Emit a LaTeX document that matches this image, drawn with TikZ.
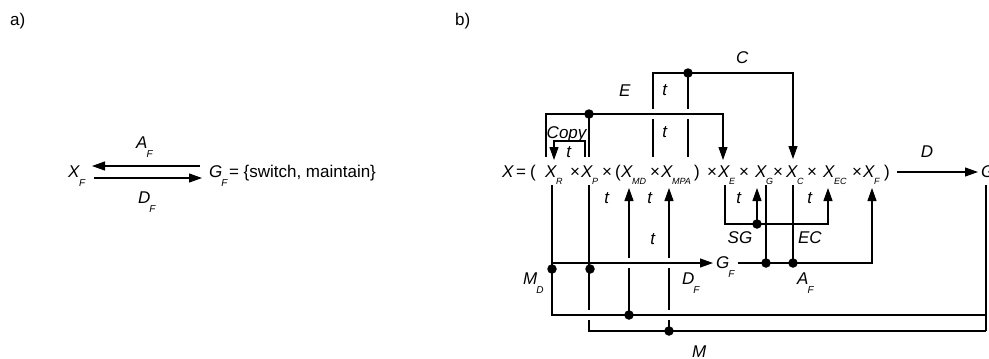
\documentclass[tikz,border=0pt]{standalone}
\usepackage{fontspec}
\setmainfont{Liberation Sans}
\usetikzlibrary{arrows.meta}
\newcommand\Xf[2]{\textit{#1}\kern-1pt\raisebox{-7pt}{\fontsize{9}{9}\selectfont\textit{#2}}}
\newcommand\Lb[2]{\textit{#1}\kern-1pt\raisebox{-9pt}{\fontsize{10}{10}\selectfont\textit{#2}}}
\tikzset{
  tok/.style={inner sep=0pt, anchor=base west, font=\fontsize{17}{19}\selectfont},
  ctok/.style={inner sep=0pt, anchor=base, font=\fontsize{17}{19}\selectfont},
  ln/.style={line width=1.15pt, line join=miter},
  arr/.style={ln, -{Triangle[length=13pt,width=9pt]}},
  dotc/.style={circle, fill=black, inner sep=0pt, minimum size=9.5pt}
}
\begin{document}
\begin{tikzpicture}[x=1pt,y=-1pt]
\useasboundingbox (0,0) rectangle (989,359);
% ---------- panel a ----------
\node[tok] (la) at (10,25) {a)};
\node[tok] (xf) at (68,177) {\Lb{X}{F}};
\node[tok] (af) at (136,148) {\Lb{A}{F}};
\node[tok] (df) at (138,203) {\Lb{D}{F}};
\node[tok] (gf) at (209,177) {\Lb{G}{F}\kern1pt= \{switch, maintain\}};
\draw[arr] (200,166) -- (92,166);
\draw[arr] (94,178) -- (202,178);
% ---------- panel b ----------
\node[tok] (lb) at (455,25) {b)};
% formula tokens
\node[tok] (x0) at (502,177) {\textit{X}};
\node[tok] (eq) at (516,177) {=};
\node[tok] (p1) at (530,177) {(};
\node[tok] (xR) at (545,177) {\Xf{X}{R}};
\node[tok] (m1) at (570,177) {×};
\node[tok] (xP) at (581,177) {\Xf{X}{P}};
\node[tok] (m2) at (602,177) {×};
\node[tok] (p2) at (615,177) {(};
\node[tok] (xMD) at (621,177) {\Xf{X}{MD}};
\node[tok] (m3) at (650,177) {×};
\node[tok] (xMPA) at (661,177) {\Xf{X}{MPA}};
\node[tok] (p3) at (694,177) {)};
\node[tok] (m4) at (707,177) {×};
\node[tok] (xE) at (718,177) {\Xf{X}{E}};
\node[tok] (m5) at (739,177) {×};
\node[tok] (xG) at (755,177) {\Xf{X}{G}};
\node[tok] (m6) at (773,177) {×};
\node[tok] (xC) at (786,177) {\Xf{X}{C}};
\node[tok] (m7) at (807,177) {×};
\node[tok] (xEC) at (823,177) {\Xf{X}{EC}};
\node[tok] (m8) at (852,177) {×};
\node[tok] (xF2) at (863,177) {\Xf{X}{F}};
\node[tok] (p4) at (884,177) {)};
\node[tok] (gR) at (981,177) {\textit{G}};
% labels
\node[tok] (lC) at (736,63) {\textit{C}};
\node[tok] (lE) at (619,96) {\textit{E}};
\node[ctok] (t1) at (665,95) {\textit{t}};
\node[ctok] (t2) at (665,137) {\textit{t}};
\node[ctok] (copy) at (567,138) {\textit{Copy}};
\node[ctok] (t3) at (569,157) {\textit{t}};
\node[ctok] (lD) at (927,157) {\textit{D}};
\node[ctok] (t4) at (607,203) {\textit{t}};
\node[ctok] (t5) at (650,203) {\textit{t}};
\node[ctok] (t6) at (653,244) {\textit{t}};
\node[ctok] (t7) at (739,203) {\textit{t}};
\node[ctok] (t8) at (810,203) {\textit{t}};
\node[ctok] (sg) at (740,243) {\textit{SG}};
\node[ctok] (ec) at (810,243) {\textit{EC}};
\node[tok] (md) at (523,284) {\Lb{M}{D}};
\node[tok] (df2) at (682,284) {\Lb{D}{F}};
\node[tok] (af2) at (797,284) {\Lb{A}{F}};
\node[tok] (gf2) at (716,268) {\Lb{G}{F}};
\node[tok] (mpa) at (692,357) {\Lb{M}{PA}};
% top lines
\draw[arr] (653,109) -- (653,73) -- (793,73) -- (793,159);
\draw[ln] (653,119) -- (653,157);
\draw[ln] (688,73) -- (688,109);
\draw[ln] (688,119) -- (688,157);
\node[dotc] (d1) at (688,73) {};
\draw[arr] (546,157) -- (546,114) -- (723,114) -- (723,160);
\draw[ln] (589,114) -- (589,157);
\node[dotc] (d2) at (589,114) {};
\draw[arr] (585,157) -- (585,141) -- (554,141) -- (554,160);
% bottom lines
\draw[ln] (552,185) -- (552,315) -- (986,315);
\draw[arr] (552,263) -- (713,263);
\node[dotc] (d3) at (552,269) {};
\node[dotc] (d4) at (590,269) {};
\draw[ln] (589,185) -- (589,310);
\draw[ln] (589,320) -- (589,331) -- (986,331);
\draw[ln] (986,185) -- (986,331);
\draw[arr] (629,258) -- (629,188);
\draw[ln] (629,268) -- (629,315);
\node[dotc] (d5) at (629,315) {};
\draw[arr] (669,258) -- (669,188);
\draw[ln] (669,268) -- (669,310);
\draw[ln] (669,320) -- (669,331);
\node[dotc] (d6) at (669,331) {};
\draw[arr] (725,185) -- (725,224) -- (828,224) -- (828,188);
\draw[arr] (757,224) -- (757,188);
\node[dotc] (d7) at (757,224) {};
\draw[ln] (766,185) -- (766,263);
\node[dotc] (d8) at (766,263) {};
\draw[ln] (793,185) -- (793,263);
\node[dotc] (d9) at (793,263) {};
\draw[arr] (738,263) -- (872,263) -- (872,188);
\draw[arr] (897,172) -- (978,172);
\end{tikzpicture}
\end{document}
